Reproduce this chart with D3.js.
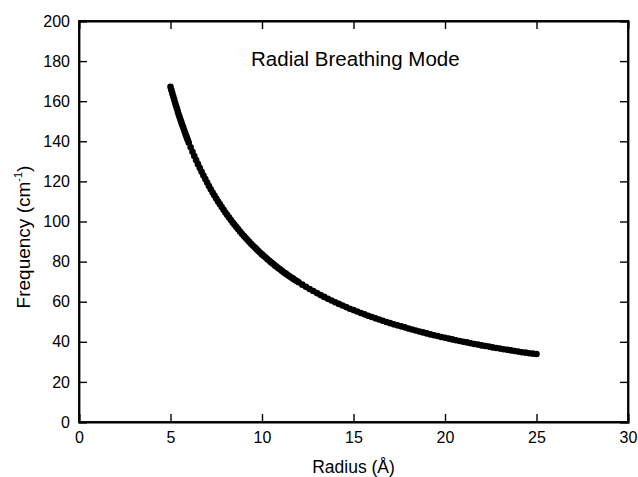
<!DOCTYPE html>
<html>
<head>
<meta charset="utf-8">
<script src="https://cdn.jsdelivr.net/npm/d3@7"></script>
<style>
    body { margin: 0; background: #fff; }
    svg text { font-family: "Liberation Sans", Arial, sans-serif; fill: #000; }
</style>
</head>
<body>
<div id="chart"></div>
<script>
// radius values (Å)
const radius = [
    5.00, 5.05, 5.10, 5.15, 5.20, 5.25, 5.30, 5.35, 5.40, 5.45, 5.50, 5.55, 5.60, 5.65, 5.70,
    5.75, 5.80, 5.85, 5.90, 5.95,
    6.0, 6.1, 6.2, 6.3, 6.4, 6.5, 6.6, 6.7, 6.8, 6.9, 7.0, 7.1, 7.2, 7.3, 7.4, 7.5, 7.6, 7.7, 7.8, 7.9,
    8.0, 8.1, 8.2, 8.3, 8.4, 8.5, 8.6, 8.7, 8.8, 8.9, 9.0, 9.1, 9.2, 9.3, 9.4, 9.5, 9.6, 9.7, 9.8, 9.9,
    10.0, 10.1, 10.2, 10.3, 10.4, 10.5, 10.6, 10.7, 10.8, 10.9, 11.0, 11.1, 11.2, 11.3, 11.4, 11.5, 11.6, 11.7, 11.8, 11.9,
    12.0, 12.2, 12.4, 12.6, 12.8, 13.0, 13.2, 13.4, 13.6, 13.8, 14.0, 14.2, 14.4, 14.6, 14.8,
    15.0, 15.2, 15.4, 15.6, 15.8, 16.0, 16.2, 16.4, 16.6, 16.8, 17.0, 17.2, 17.4, 17.6, 17.8,
    18.0, 18.2, 18.4, 18.6, 18.8, 19.0, 19.2, 19.4, 19.6, 19.8, 20.0, 20.2, 20.4, 20.6, 20.8,
    21.0, 21.2, 21.4, 21.6, 21.8, 22.0, 22.2, 22.4, 22.6, 22.8, 23.0, 23.2, 23.4, 23.6, 23.8,
    24.0, 24.2, 24.4, 24.6, 24.8, 25.0
];

// frequency values (cm^-1), one per radius
const frequency = [
    167.2, 165.5, 163.9, 162.3, 160.8, 159.2, 157.7, 156.3, 154.8, 153.4, 152.0, 150.6, 149.3, 148.0, 146.7,
    145.4, 144.1, 142.9, 141.7, 140.5,
    139.3, 137.0, 134.8, 132.7, 130.6, 128.6, 126.7, 124.8, 122.9, 121.2, 119.4, 117.7, 116.1, 114.5, 113.0, 111.5, 110.0, 108.6, 107.2, 105.8,
    104.5, 103.2, 102.0, 100.7, 99.5, 98.4, 97.2, 96.1, 95.0, 93.9, 92.9, 91.9, 90.9, 89.9, 88.9, 88.0, 87.1, 86.2, 85.3, 84.4,
    83.6, 82.8, 82.0, 81.2, 80.4, 79.6, 78.9, 78.1, 77.4, 76.7, 76.0, 75.3, 74.6, 74.0, 73.3, 72.7, 72.1, 71.5, 70.8, 70.3,
    69.7, 68.5, 67.4, 66.3, 65.3, 64.3, 63.3, 62.4, 61.5, 60.6, 59.7, 58.9, 58.1, 57.3, 56.5,
    55.8, 55.1, 54.4, 53.7, 53.0, 52.4, 51.7, 51.1, 50.5, 49.9, 49.3, 48.7, 48.2, 47.7, 47.2,
    46.6, 46.1, 45.6, 45.1, 44.7, 44.2, 43.7, 43.3, 42.9, 42.4, 42.0, 41.6, 41.2, 40.8, 40.4,
    40.0, 39.7, 39.3, 38.9, 38.6, 38.2, 37.9, 37.6, 37.2, 36.9, 36.6, 36.3, 36.0, 35.7, 35.4,
    35.1, 34.8, 34.6, 34.3, 34.1, 33.9
];

const xTicks = [0, 5, 10, 15, 20, 25, 30];
const yTicks = [0, 20, 40, 60, 80, 100, 120, 140, 160, 180, 200];

const data = radius.map((r, i) => ({ r: r, f: frequency[i] }));

const width = 638, height = 477;
const margin = { top: 21, right: 10, bottom: 55, left: 79 };
const chartWidth = width - margin.left - margin.right;
const chartHeight = height - margin.top - margin.bottom;

const svg = d3.select('#chart').append('svg')
    .attr('width', width)
    .attr('height', height);

const g = svg.append('g')
    .attr('transform', `translate(${margin.left},${margin.top})`);

// Scales
const xScale = d3.scaleLinear().domain([0, 30]).range([0, chartWidth]);
const yScale = d3.scaleLinear().domain([0, 200]).range([chartHeight, 0]);

const minorX = d3.range(0, 31, 1).filter(v => v % 5 !== 0);
const minorY = d3.range(0, 201, 10).filter(v => v % 20 !== 0);

// inward ticks on all four sides
function drawAxis(axisFn, scale, major, minor, transform, showLabels, pad) {
    const ax = g.append('g').attr('transform', transform);
    ax.call(axisFn(scale).tickValues(minor).tickSize(-4).tickFormat(''));
    ax.call(axisFn(scale).tickValues(major).tickSize(-8).tickPadding(pad)
        .tickFormat(showLabels ? d3.format('d') : ''));
    ax.selectAll('.tick line').attr('stroke', '#000').attr('stroke-width', 1.4);
    ax.selectAll('.domain').attr('stroke', '#000').attr('stroke-width', 1.8);
    ax.selectAll('text').style('font-size', '16px');
    return ax;
}

drawAxis(d3.axisBottom, xScale, xTicks, minorX, `translate(0,${chartHeight})`, true, 10);
drawAxis(d3.axisTop, xScale, xTicks, minorX, 'translate(0,0)', false, 3);
drawAxis(d3.axisLeft, yScale, yTicks, minorY, 'translate(0,0)', true, 9);
drawAxis(d3.axisRight, yScale, yTicks, minorY, `translate(${chartWidth},0)`, false, 3);

// full frame so the corners close
g.append('rect')
    .attr('width', chartWidth)
    .attr('height', chartHeight)
    .attr('fill', 'none')
    .attr('stroke', '#000')
    .attr('stroke-width', 1.8);

// points
g.selectAll('.dot')
    .data(data)
    .enter()
    .append('circle')
    .attr('class', 'dot')
    .attr('cx', d => xScale(d.r))
    .attr('cy', d => yScale(d.f))
    .attr('r', 3.3)
    .attr('fill', '#000');

// title inside the plot
g.append('text')
    .attr('x', xScale(15.1))
    .attr('y', yScale(180) + 5)
    .attr('text-anchor', 'middle')
    .style('font-size', '20.5px')
    .text('Radial Breathing Mode');

// axis labels
svg.append('text')
    .attr('x', margin.left + xScale(15))
    .attr('y', 473)
    .attr('text-anchor', 'middle')
    .style('font-size', '17.5px')
    .text('Radius (Å)');

const yLabel = svg.append('text')
    .attr('transform', 'translate(30,237) rotate(-90)')
    .attr('text-anchor', 'middle')
    .style('font-size', '19px');
yLabel.append('tspan').text('Frequency (cm');
yLabel.append('tspan').attr('dy', '-8').style('font-size', '11px').text('-1');
yLabel.append('tspan').attr('dy', '8').text(')');
</script>
</body>
</html>
